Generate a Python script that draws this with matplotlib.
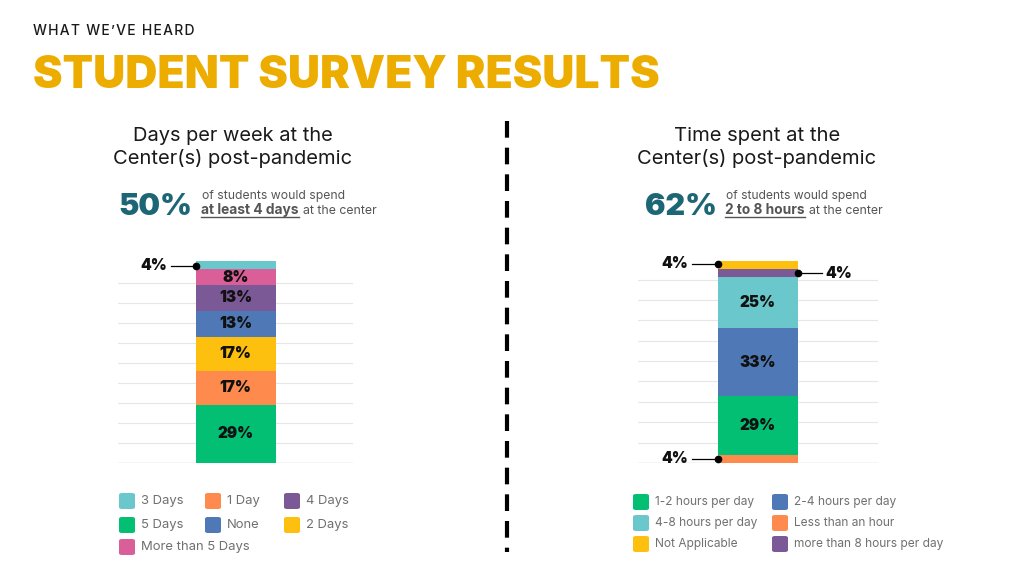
import matplotlib
matplotlib.use('Agg')
import matplotlib.pyplot as plt
from matplotlib.patches import FancyBboxPatch
from matplotlib.lines import Line2D

plt.rcParams['font.family'] = ['Inter', 'DejaVu Sans']

# left chart: days per week
days_labels = ['5 Days', '1 Day', '2 Days', 'None', '4 Days', 'More than 5 Days', '3 Days']
days_values = [29, 17, 17, 13, 13, 8, 4]
days_colors = ['#03BF73', '#FE8A4E', '#FDC00E', '#4E79B6', '#7B5996', '#DA5F98', '#6AC7CB']
days_legend_order = ['3 Days', '1 Day', '4 Days', '5 Days', 'None', '2 Days', 'More than 5 Days']

# right chart: time spent
time_labels = ['Less than an hour', '1-2 hours per day', '2-4 hours per day',
               '4-8 hours per day', 'more than 8 hours per day', 'Not Applicable']
time_values = [4, 29, 33, 25, 4, 4]
time_colors = ['#FE8A4E', '#03BF73', '#4E79B6', '#6AC7CB', '#7B5996', '#FDC00E']
time_legend_order = ['1-2 hours per day', '2-4 hours per day', '4-8 hours per day',
                     'Less than an hour', 'Not Applicable', 'more than 8 hours per day']

W, H = 1014, 570
fig = plt.figure(figsize=(W / 100, H / 100), dpi=100)
renderer = fig.canvas.get_renderer()


def fx(px):
    return px / W


def fy(py):
    return 1 - py / H


def ftext(x, y, s, width=None, **kw):
    # place text in pixel coords; optionally scale font to a target pixel width
    t = fig.text(fx(x), fy(y), s, **kw)
    if width:
        w = t.get_window_extent(renderer).width
        t.set_fontsize(t.get_fontsize() * width / w)
    return t


def stacked(left_px, right_px, values, colors, ytop):
    ax = fig.add_axes([fx(left_px), fy(463), fx(right_px - left_px), 210 / H])
    ax.set_xlim(0, 1)
    ax.set_ylim(0, ytop)
    for g in range(10, 100, 10):
        ax.axhline(g, color='#E6E6E6', lw=0.8, zorder=0)
    ax.axhline(0, color='#D0D0D0', lw=1.0, zorder=0)
    bw = 80 / (right_px - left_px)
    bottom = 0
    for v, c in zip(values, colors):
        ax.bar(0.5, v, width=bw, bottom=bottom, color=c, zorder=2, linewidth=0)
        if v > 5:
            ax.text(0.5, bottom + v / 2, '%d%%' % v, ha='center', va='center',
                    fontsize=11, fontweight=900, color='#111111', zorder=3)
        bottom += v
    ax.axis('off')
    return ax, bw


def callout(ax, xb, yv, side, dx):
    ax.plot([xb, xb + dx], [yv, yv], color='black', lw=0.9, zorder=4)
    ax.plot(xb, yv, 'o', color='black', ms=4.5, zorder=4)
    ax.text(xb + dx * 1.15, yv, '4%', ha='right' if side == 'l' else 'left',
            va='center', fontsize=11, fontweight=900, color='#111111')


# left
axl, bwl = stacked(118, 353, days_values, days_colors, 105)
top = sum(days_values)
callout(axl, 0.5 - bwl / 2, top - days_values[-1] / 2 - 0.3, 'l', -0.105)

# right
axr, bwr = stacked(638, 878, time_values, time_colors, 103)
cum = [sum(time_values[:i + 1]) for i in range(len(time_values))]
callout(axr, 0.5 - bwr / 2, time_values[0] / 2, 'l', -0.11)
callout(axr, 0.5 + bwr / 2, cum[4] - 2, 'r', 0.1)
callout(axr, 0.5 - bwr / 2, cum[5] - 1.2, 'l', -0.11)

# header (letter-spaced with hair spaces)
ftext(33, 35, '\u200a'.join('WHAT WE\u2019VE HEARD'), fontsize=10, color='#1A1A1A',
      ha='left', va='baseline', fontweight=500)
ftext(33, 88, 'STUDENT SURVEY RESULTS', width=627, fontsize=30, color='#EDAD00',
      ha='left', va='baseline', fontweight=900)

# subtitles
sub = dict(fontsize=13, color='#1A1A1A', ha='center', va='baseline', fontweight=400)
ftext(233, 141, 'Days per week at the', width=200, **sub)
ftext(233, 164, 'Center(s) post-pandemic', width=239, **sub)
ftext(757, 141, 'Time spent at the', width=166, **sub)
ftext(757, 164, 'Center(s) post-pandemic', width=239, **sub)

# key stats
teal = '#1D6676'
grey = '#555555'
ftext(118, 215, '50%', width=74, fontsize=22, fontweight=900, color=teal,
      ha='left', va='baseline')
ftext(202, 199, 'of students would spend', width=143, fontsize=8, color=grey,
      ha='left', va='baseline')
ftext(201, 214, 'at least 4 days', width=98, fontsize=8, color=grey,
      ha='left', va='baseline', fontweight=700)
fig.add_artist(Line2D([fx(201), fx(299)], [fy(216.5), fy(216.5)], color=grey, lw=1))
ftext(303, 214, 'at the center', width=74, fontsize=8, color=grey,
      ha='left', va='baseline')

ftext(645, 215, '62%', width=72, fontsize=22, fontweight=900, color=teal,
      ha='left', va='baseline')
ftext(726, 199, 'of students would spend', width=142, fontsize=8, color=grey,
      ha='left', va='baseline')
ftext(725, 214, '2 to 8 hours', width=80, fontsize=8, color=grey,
      ha='left', va='baseline', fontweight=700)
fig.add_artist(Line2D([fx(725), fx(805)], [fy(216.5), fy(216.5)], color=grey, lw=1))
ftext(809, 214, 'at the center', width=74, fontsize=8, color=grey,
      ha='left', va='baseline')

# divider
fig.add_artist(Line2D([fx(507), fx(507)], [fy(121), fy(552)], color='black', lw=3,
                      dashes=(4, 2.4)))


# legends
def legend(labels, colors, order, cols_px, rows_px, size):
    cmap = dict(zip(labels, colors))
    for i, lab in enumerate(order):
        cx = cols_px[i % len(cols_px)]
        cy = rows_px[i // len(cols_px)]
        box = FancyBboxPatch((fx(cx), fy(cy + 8)), fx(16), 16 / H,
                             boxstyle='round,pad=0,rounding_size=0.003',
                             transform=fig.transFigure, color=cmap[lab], lw=0)
        fig.add_artist(box)
        fig.text(fx(cx + 22), fy(cy), lab, fontsize=size, color='#707070',
                 ha='left', va='center')


legend(days_labels, days_colors, days_legend_order, [119, 205, 284], [501, 525, 547], 9.4)
legend(time_labels, time_colors, time_legend_order, [633, 772], [502, 523, 544], 8.6)

fig.savefig('out.png', dpi=100, facecolor='white')
